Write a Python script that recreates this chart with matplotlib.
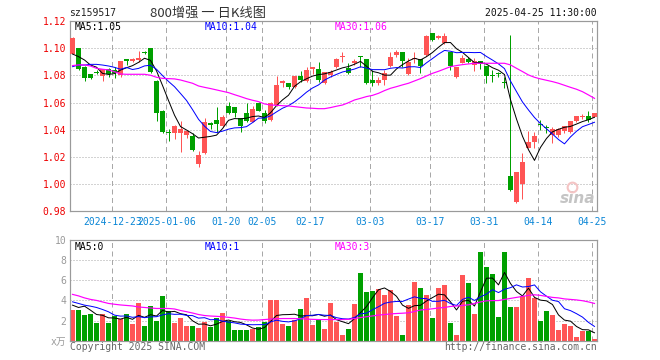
import numpy as np
import pandas as pd
import matplotlib
matplotlib.use("Agg")
import matplotlib.pyplot as plt

# ---------------- data ----------------
opens = [1.0957, 1.1001, 1.0864, 1.0810, 1.0823, 1.0798, 1.0845, 1.0840, 1.0803, 1.0918,
         1.0908, 1.0913, 1.0970, 1.1001, 1.0761, 1.0541, 1.0376, 1.0379, 1.0374, 1.0362,
         1.0354, 1.0149, 1.0227, 1.0440, 1.0472, 1.0428, 1.0573, 1.0565, 1.0484, 1.0523,
         1.0460, 1.0600, 1.0521, 1.0472, 1.0582, 1.0742, 1.0747, 1.0712, 1.0796, 1.0761,
         1.0847, 1.0845, 1.0747, 1.0803, 1.0864, 1.0936, 1.0857, 1.0889, 1.0935, 1.0921,
         1.0766, 1.0747, 1.0766, 1.0869, 1.0948, 1.0970, 1.0810, 1.0917, 1.0918, 1.0950,
         1.1109, 1.1073, 1.1036, 1.0975, 1.0791, 1.0889, 1.0921, 1.0876, 1.0906, 1.0872,
         1.0798, 1.0811, 1.0748, 1.0060, 0.9871, 0.9999, 1.0264, 1.0313, 1.0437, 1.0417,
         1.0362, 1.0362, 1.0391, 1.0381, 1.0467, 1.0496, 1.0502, 1.0492]
closes = [1.1073, 1.0847, 1.0783, 1.0778, 1.0820, 1.0845, 1.0808, 1.0815, 1.0906, 1.0906,
          1.0923, 1.0928, 1.0967, 1.0827, 1.0521, 1.0386, 1.0374, 1.0428, 1.0408, 1.0394,
          1.0251, 1.0215, 1.0457, 1.0438, 1.0440, 1.0491, 1.0521, 1.0521, 1.0428, 1.0465,
          1.0550, 1.0541, 1.0467, 1.0600, 1.0729, 1.0761, 1.0712, 1.0796, 1.0766, 1.0840,
          1.0859, 1.0766, 1.0825, 1.0827, 1.0921, 1.0938, 1.0815, 1.0908, 1.0933, 1.0742,
          1.0747, 1.0766, 1.0820, 1.0933, 1.0970, 1.0906, 1.0901, 1.0920, 1.0869, 1.1092,
          1.1060, 1.1092, 1.1092, 1.0872, 1.0864, 1.0926, 1.0901, 1.0906, 1.0881, 1.0798,
          1.0795, 1.0810, 1.0746, 0.9957, 1.0087, 1.0161, 1.0313, 1.0354, 1.0435, 1.0415,
          1.0406, 1.0406, 1.0428, 1.0467, 1.0502, 1.0498, 1.0472, 1.0521]
highs = [1.1085, 1.1001, 1.0868, 1.0810, 1.0840, 1.0845, 1.0857, 1.0864, 1.0906, 1.0918,
         1.0928, 1.0982, 1.0982, 1.1001, 1.0766, 1.0546, 1.0403, 1.0435, 1.0467, 1.0394,
         1.0374, 1.0246, 1.0484, 1.0455, 1.0565, 1.0509, 1.0607, 1.0565, 1.0484, 1.0595,
         1.0575, 1.0607, 1.0546, 1.0607, 1.0798, 1.0766, 1.0747, 1.0796, 1.0835, 1.0864,
         1.0864, 1.0896, 1.0825, 1.0840, 1.0926, 1.0972, 1.0889, 1.0921, 1.0940, 1.0921,
         1.0840, 1.0786, 1.0840, 1.0975, 1.0987, 1.0970, 1.0926, 1.0975, 1.0918, 1.1097,
         1.1114, 1.1097, 1.1109, 1.0975, 1.0864, 1.0950, 1.0933, 1.0926, 1.0906, 1.0872,
         1.0840, 1.0828, 1.0791, 1.1097, 1.0087, 1.0227, 1.0391, 1.0386, 1.0472, 1.0435,
         1.0423, 1.0411, 1.0428, 1.0467, 1.0502, 1.0514, 1.0541, 1.0521]
lows = [1.0957, 1.0840, 1.0761, 1.0774, 1.0810, 1.0761, 1.0786, 1.0779, 1.0791, 1.0876,
        1.0901, 1.0901, 1.0957, 1.0820, 1.0467, 1.0374, 1.0320, 1.0330, 1.0239, 1.0337,
        1.0246, 1.0129, 1.0222, 1.0403, 1.0386, 1.0423, 1.0516, 1.0492, 1.0386, 1.0460,
        1.0455, 1.0536, 1.0452, 1.0467, 1.0575, 1.0712, 1.0698, 1.0705, 1.0754, 1.0754,
        1.0808, 1.0754, 1.0737, 1.0791, 1.0852, 1.0901, 1.0810, 1.0876, 1.0859, 1.0737,
        1.0722, 1.0729, 1.0729, 1.0864, 1.0933, 1.0864, 1.0803, 1.0889, 1.0820, 1.0943,
        1.1053, 1.1065, 1.1031, 1.0840, 1.0783, 1.0889, 1.0889, 1.0835, 1.0845, 1.0742,
        1.0754, 1.0786, 1.0705, 0.9953, 0.9859, 0.9891, 1.0264, 1.0269, 1.0399, 1.0374,
        1.0301, 1.0350, 1.0374, 1.0374, 1.0460, 1.0480, 1.0460, 1.0492]
volumes = [3.03, 3.03, 2.54, 2.64, 1.77, 2.64, 1.77, 2.44, 2.11, 2.64,
           1.64, 3.76, 1.44, 3.43, 1.97, 4.43, 2.97, 1.77, 2.27, 1.44,
           1.44, 1.27, 1.87, 1.37, 2.27, 2.77, 1.97, 1.04, 1.04, 1.04,
           1.21, 1.37, 1.87, 4.03, 4.03, 1.61, 1.44, 2.04, 3.13, 4.23,
           1.54, 2.11, 1.14, 3.76, 1.87, 0.55, 1.14, 3.63, 6.75, 4.86,
           4.93, 5.12, 4.53, 5.02, 2.44, 0.55, 3.53, 5.85, 5.22, 4.56,
           2.24, 5.22, 5.52, 1.74, 0.55, 6.55, 5.72, 2.64, 8.81, 7.31,
           6.62, 2.34, 8.81, 3.33, 3.33, 4.40, 6.22, 4.23, 1.97, 2.97,
           2.57, 1.07, 1.64, 1.47, 0.32, 0.98, 0.98, 0.18]

# moving-average values before enough history exists in the window
ma5_head = [1.0957, 1.0938, 1.0913, 1.0876]
ma10_head = [1.0864, 1.0876, 1.0876, 1.0881, 1.0881, 1.0876, 1.0869, 1.0859, 1.0845]
ma30 = [1.0872, 1.0877, 1.0877, 1.0869, 1.0852, 1.0845, 1.0840, 1.0827, 1.0810, 1.0808,
        1.0808, 1.0808, 1.0808, 1.0801, 1.0786, 1.0778, 1.0776, 1.0774, 1.0766, 1.0754,
        1.0742, 1.0722, 1.0712, 1.0703, 1.0693, 1.0683, 1.0673, 1.0658, 1.0644, 1.0629,
        1.0617, 1.0607, 1.0590, 1.0582, 1.0580, 1.0577, 1.0575, 1.0570, 1.0565, 1.0560,
        1.0558, 1.0555, 1.0555, 1.0563, 1.0573, 1.0582, 1.0599, 1.0619, 1.0631, 1.0644,
        1.0653, 1.0668, 1.0688, 1.0705, 1.0717, 1.0730, 1.0742, 1.0759, 1.0776, 1.0796,
        1.0815, 1.0830, 1.0847, 1.0864, 1.0872, 1.0879, 1.0884, 1.0889, 1.0889, 1.0889,
        1.0889, 1.0889, 1.0889, 1.0877, 1.0852, 1.0828, 1.0803, 1.0786, 1.0774, 1.0764,
        1.0754, 1.0742, 1.0727, 1.0712, 1.0698, 1.0680, 1.0656, 1.0631]
vol_ma5_head = [3.53, 3.30, 3.43, 3.03]
vol_ma10_head = [3.86, 3.70, 3.53, 3.43, 3.30, 3.10, 2.87, 2.54, 2.44]
vol_ma30 = [4.60, 4.45, 4.25, 4.10, 4.00, 3.85, 3.70, 3.62, 3.55, 3.50,
            3.45, 3.35, 3.30, 3.25, 3.20, 3.20, 3.20, 3.15, 3.00, 2.88,
            2.75, 2.60, 2.50, 2.45, 2.42, 2.38, 2.32, 2.25, 2.15, 2.08,
            2.04, 2.05, 2.10, 2.15, 2.18, 2.20, 2.20, 2.20, 2.18, 2.15,
            2.12, 2.10, 2.10, 2.10, 2.10, 2.10, 2.12, 2.20, 2.30, 2.38,
            2.46, 2.54, 2.60, 2.66, 2.70, 2.73, 2.77, 2.90, 3.05, 3.10,
            3.17, 3.25, 3.30, 3.40, 3.45, 3.50, 3.56, 3.70, 3.85, 3.96,
            3.98, 3.99, 4.10, 4.20, 4.30, 4.40, 4.50, 4.56, 4.50, 4.40,
            4.30, 4.25, 4.15, 4.10, 4.05, 3.97, 3.85, 3.70]

tick_index = [7, 16, 26, 32, 40, 50, 60, 69, 78, 87]
tick_labels = ["2024-12-23", "2025-01-06", "01-20", "02-05", "02-17",
               "03-03", "03-17", "03-31", "04-14", "04-25"]
price_ticks = [0.98, 1.00, 1.02, 1.04, 1.06, 1.08, 1.10, 1.12]
vol_ticks = [0, 2, 4, 6, 8, 10]
vol_tick_labels = ["x万", "2", "4", "6", "8", "10"]

# ---------------- derived series ----------------
c = pd.Series(closes)
ma5 = c.rolling(5).mean().to_numpy()
ma5[:len(ma5_head)] = ma5_head
ma10 = c.rolling(10).mean().to_numpy()
ma10[:len(ma10_head)] = ma10_head
v = pd.Series(volumes)
vma5 = v.rolling(5).mean().to_numpy()
vma5[:len(vol_ma5_head)] = vol_ma5_head
vma10 = v.rolling(10).mean().to_numpy()
vma10[:len(vol_ma10_head)] = vol_ma10_head

n = len(closes)
x = np.arange(n)
o = np.array(opens); cl = np.array(closes)
up = cl >= o
RED = "#ff5555"
GREEN = "#00a000"
colors = [RED if u else GREEN for u in up]

# ---------------- layout ----------------
W, H = 660, 360
fig = plt.figure(figsize=(W / 100, H / 100), dpi=100)
fig.patch.set_facecolor("white")

def box(l, t, r, b):
    return [l / W, 1 - b / H, (r - l) / W, (b - t) / H]

px = 0.72  # one pixel in points
MONO = ["DejaVu Sans Mono", "Noto Sans CJK SC"]
FS = 7

ax = fig.add_axes(box(70.3, 21, 597.3, 211.3))
axv = fig.add_axes(box(70.3, 240, 597.3, 340.7))

XL = (-0.37, n - 0.53)
GRIDC = "#a8a8a8"

for a in (ax, axv):
    a.set_xlim(*XL)
    for s in a.spines.values():
        s.set_color("#9a9a9a")
        s.set_linewidth(1.2 * px)
    a.tick_params(length=0)
    for t in tick_index:
        a.axvline(t - 0.38, color=GRIDC, lw=px, ls=(0, (5, 3.5)), zorder=0)

# ---------------- price panel ----------------
ax.set_ylim(price_ticks[0], price_ticks[-1])
for yv in price_ticks[1:-1]:
    ax.axhline(yv, color=GRIDC, lw=px, ls=(0, (1, 2)), zorder=0)

ax.vlines(x, lows, highs, colors=colors, lw=px, zorder=2)
body_h = np.maximum(np.abs(cl - o), 0.0008)
body_b = np.minimum(cl, o)
ax.bar(x, body_h, bottom=body_b, width=0.82, color=colors, lw=0, zorder=3)

ax.plot(x, ma5, color="black", lw=1.0 * px, zorder=4)
ax.plot(x, ma10, color="#0000ff", lw=1.0 * px, zorder=4)
ax.plot(x, ma30, color="#ff00ff", lw=1.2 * px, zorder=4)

ax.set_yticks(price_ticks)
ax.set_yticklabels([f"{t:.2f}" for t in price_ticks], family=MONO, fontsize=FS, color="#ee0000")
ax.tick_params(axis="y", pad=3)
ax.set_xticks(np.array(tick_index) - 0.38)
ax.set_xticklabels(tick_labels, family=MONO, fontsize=FS, color="#0a86d6")
ax.tick_params(axis="x", pad=4)

# sina watermark
ax.text(0.963, 0.065, "sina", transform=ax.transAxes, ha="center", va="center",
        fontsize=11, color="#c4c4c4", style="italic", weight="bold", zorder=1)
ax.plot([0.952], [0.13], transform=ax.transAxes, marker="o", ms=7, mfc="none",
        mec="#f4c4c4", mew=1.5, zorder=1)

# ---------------- volume panel ----------------
axv.set_ylim(vol_ticks[0], vol_ticks[-1])
for yv in vol_ticks[1:-1]:
    axv.axhline(yv, color=GRIDC, lw=px, ls=(0, (1, 2)), zorder=0)
axv.bar(x, volumes, width=0.82, color=colors, lw=0, zorder=2)
axv.plot(x, vma5, color="black", lw=1.0 * px, zorder=4)
axv.plot(x, vma10, color="#0000ff", lw=1.0 * px, zorder=4)
axv.plot(x, vol_ma30, color="#ff00ff", lw=1.2 * px, zorder=4)
axv.set_yticks(vol_ticks)
axv.set_yticklabels(vol_tick_labels, family=MONO, fontsize=FS, color="#9a9a9a")
axv.tick_params(axis="y", pad=3)
axv.set_xticks([])

# ---------------- texts ----------------
def ftext(xp, yp, s, **kw):
    kw.setdefault("family", MONO)
    kw.setdefault("fontsize", FS)
    kw.setdefault("va", "center")
    fig.text(xp / W, 1 - yp / H, s, **kw)

ftext(69, 13, "sz159517", color="#222222")
ftext(150, 13, "800增强 一 日K线图", family=["Noto Sans CJK SC", "DejaVu Sans"],
      fontsize=9.5, color="#333333")
ftext(597, 13, "2025-04-25 11:30:00", ha="right", color="#111111")

ftext(75, 27, "MA5:1.05", color="black")
ftext(205, 27, "MA10:1.04", color="#0000ff")
ftext(334.5, 27, "MA30:1.06", color="#ff00ff")

ftext(75, 246.5, "MA5:0", color="black")
ftext(205, 246.5, "MA10:1", color="#0000ff")
ftext(334.5, 246.5, "MA30:3", color="#ff00ff")

ftext(69.5, 347, "Copyright 2025 SINA.COM", color="#666666")
ftext(597, 347, "http://finance.sina.com.cn", ha="right", color="#666666")

fig.savefig("out.png", dpi=100, facecolor="white")
